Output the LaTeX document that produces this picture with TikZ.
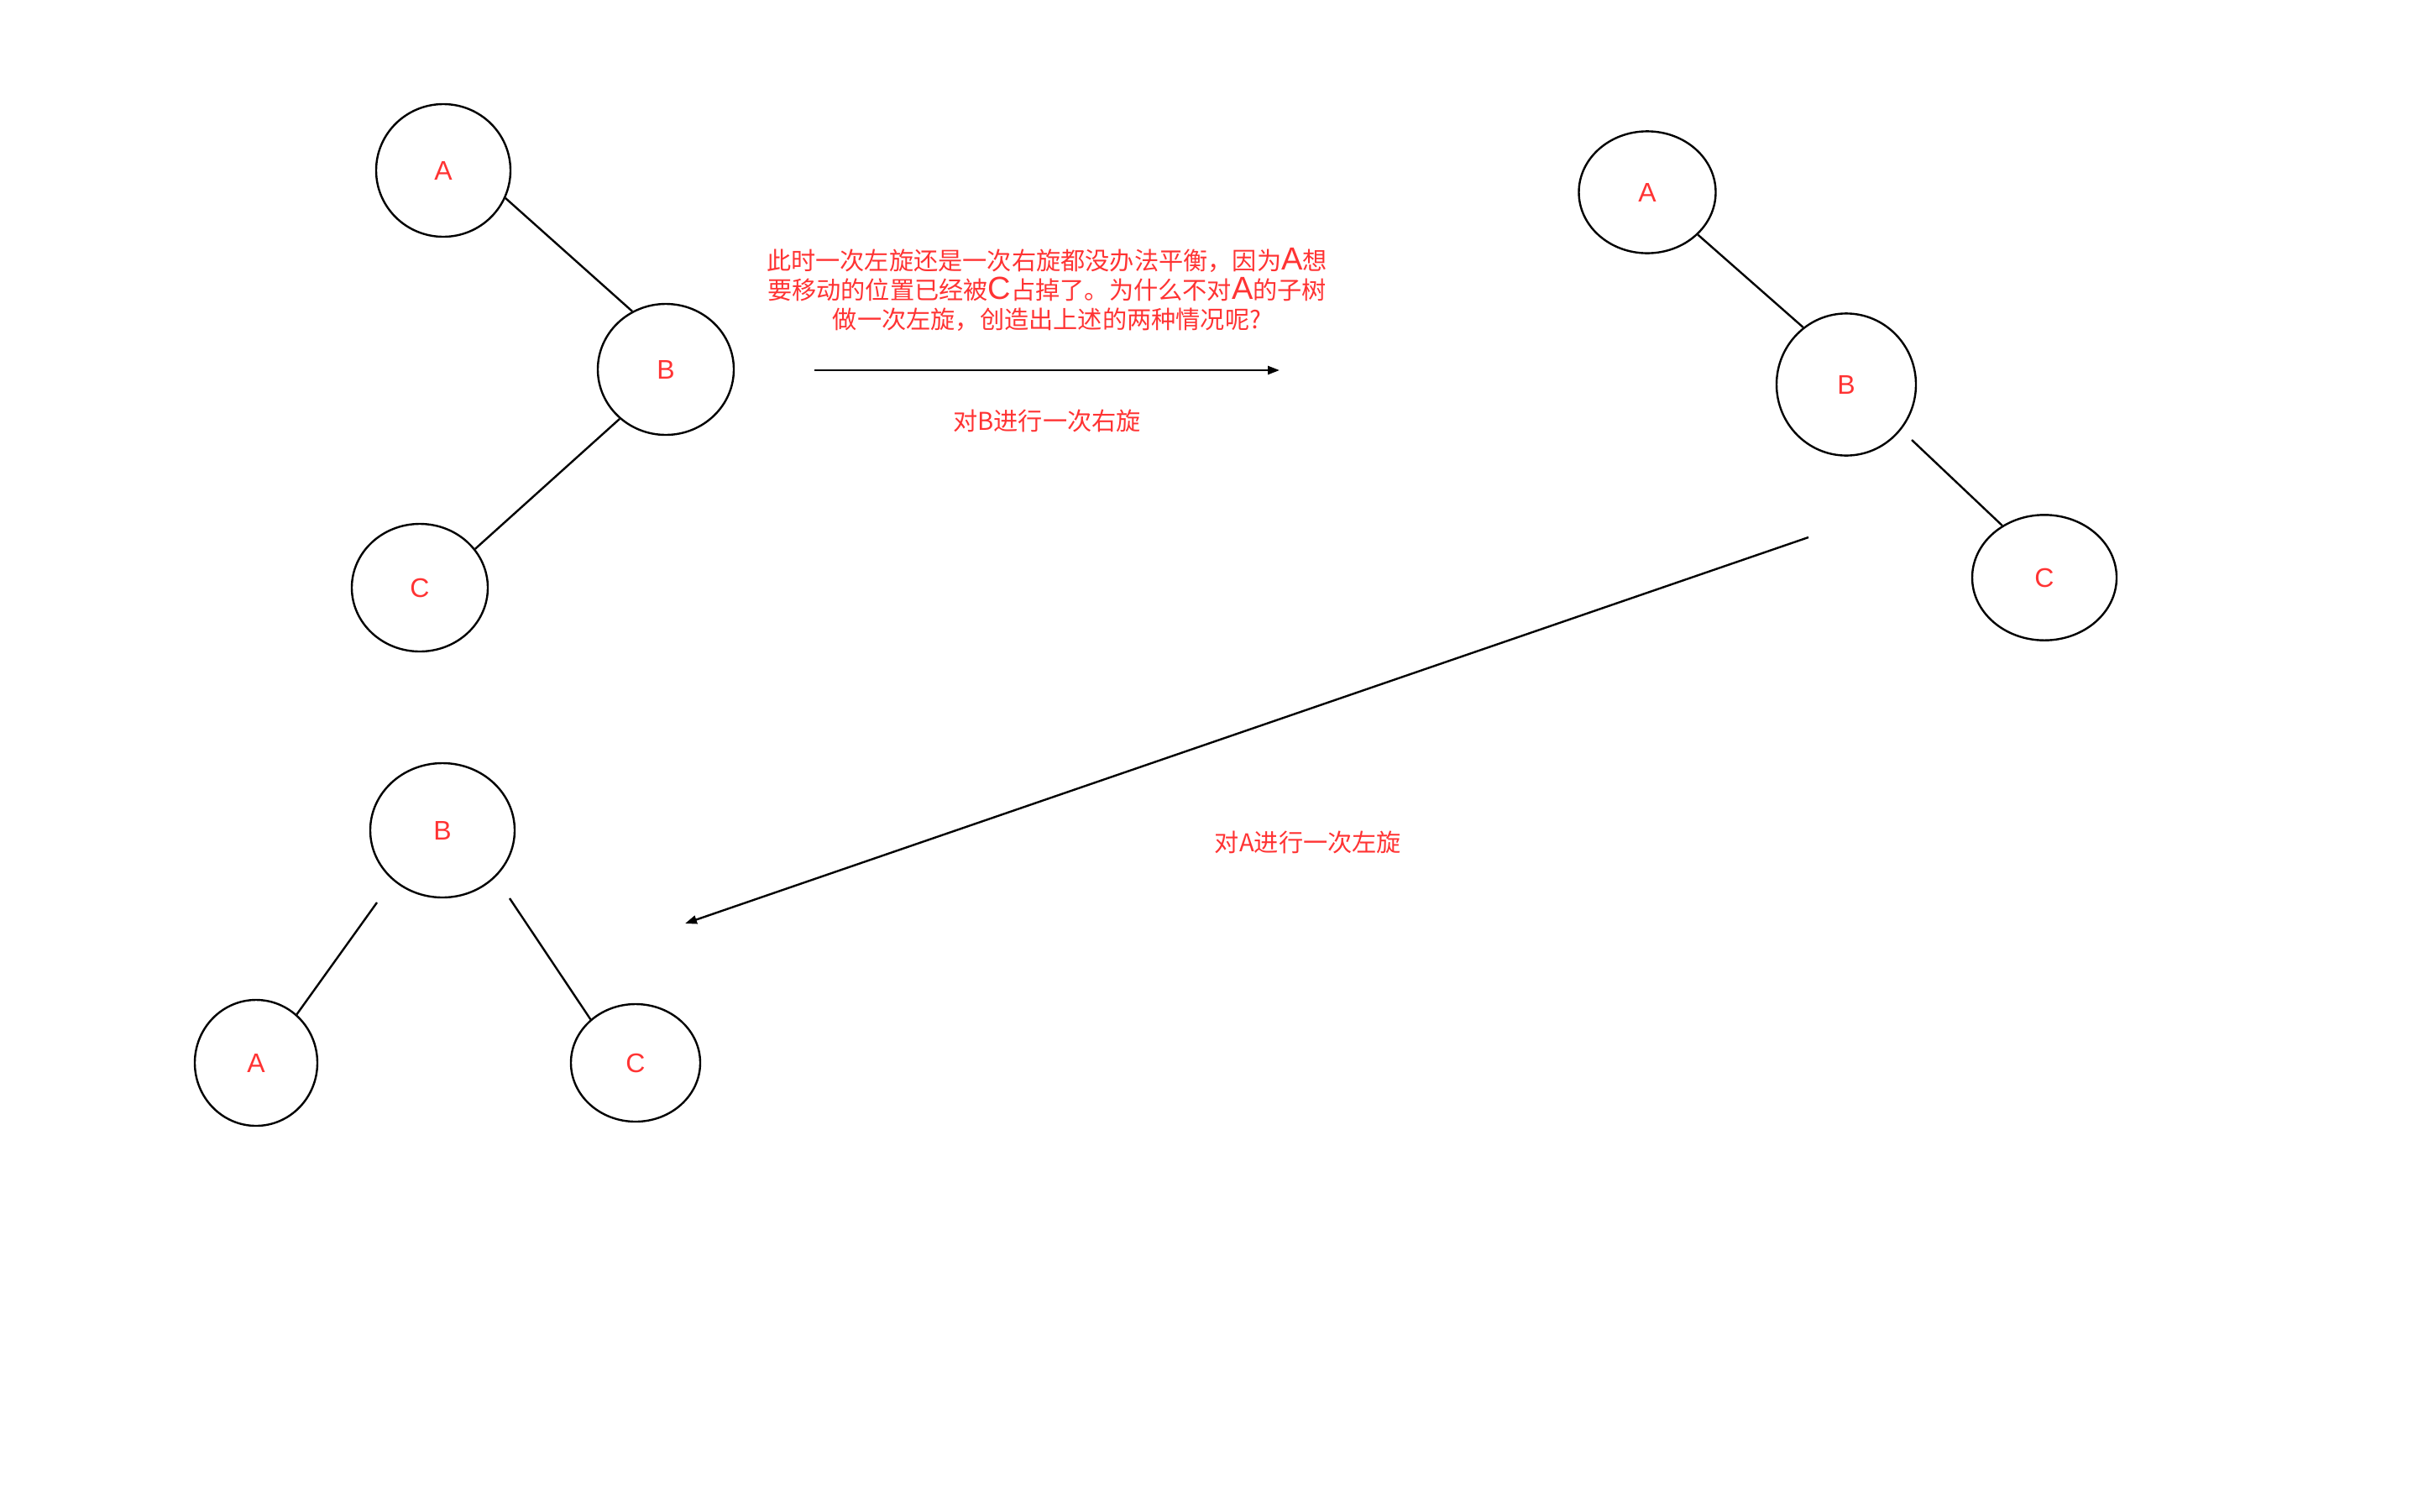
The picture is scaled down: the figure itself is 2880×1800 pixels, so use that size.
\documentclass[tikz,border=0pt]{standalone}
\usepackage{fontspec}
\setmainfont{Noto Sans CJK SC}
\newfontfamily\latinfont{Liberation Sans}
\usepackage{xcolor}
\usetikzlibrary{arrows.meta,shapes.geometric}
\definecolor{labelred}{HTML}{FF3333}
\newcommand{\lat}[1]{{\latinfont\fontsize{19}{19}\selectfont #1}}

\begin{document}
\begin{tikzpicture}[
  x=0.5pt, y=-0.5pt,
  every node/.style={font=\fontsize{14.6}{17.5}\selectfont, text=labelred},
  treenode/.style={draw=black, ellipse, line width=1.2pt, inner sep=0pt, font=\latinfont\fontsize{16}{16}\selectfont},
  edge/.style={line width=1.2pt},
  arrow/.style={-{Triangle[length=7pt, width=5pt]}, line width=1.2pt}
]
  \useasboundingbox (0,0) rectangle (2880,1800);

  % before: right-left case
  \node[treenode, minimum width=80pt, minimum height=79pt] (A1) at (528,203) {A};
  \node[treenode, minimum width=81pt, minimum height=78pt] (B1) at (793,440) {B};
  \node[treenode, minimum width=81pt, minimum height=76pt] (C1) at (500,700) {C};
  \draw[edge] (A1.-24.7) -- (B1.120.7);
  \draw[edge] (B1.227) -- (C1.35.5);

  % after right rotation of B
  \node[treenode, minimum width=81.5pt, minimum height=72.6pt] (A2) at (1962,229) {A};
  \node[treenode, minimum width=83pt, minimum height=84.6pt] (B2) at (2199,458) {B};
  \node[treenode, minimum width=86pt, minimum height=74.7pt] (C2) at (2435,688) {C};
  \coordinate (B2right) at (2277,524);
  \draw[edge] (A2.-40.4) -- (B2.127.3);
  \draw[edge] (B2right) -- (C2.129.7);

  % after left rotation of A
  \node[treenode, minimum width=86pt, minimum height=80pt] (B3) at (527,989) {B};
  \node[treenode, minimum width=73pt, minimum height=75pt] (A3) at (305,1266) {A};
  \node[treenode, minimum width=77pt, minimum height=70pt] (C3) at (757,1266) {C};
  \coordinate (B3left) at (449,1075);
  \coordinate (B3right) at (607,1070);
  \draw[edge] (B3left) -- (A3.50.9);
  \draw[edge] (B3right) -- (C3.136.1);

  % rotation arrows
  \coordinate (rightStart) at (970,441);
  \coordinate (rightEnd) at (1524,441);
  \coordinate (leftStart) at (2154,640);
  \coordinate (leftEnd) at (816,1100);
  \draw[arrow] (rightStart) -- (rightEnd);
  \draw[arrow] (leftStart) -- (leftEnd);

  \node[align=center] (question) at (1247,345) {此时一次左旋还是一次右旋都没办法平衡，因为\lat{A}想\\要移动的位置已经被\lat{C}占掉了。为什么不对\lat{A}的子树\\做一次左旋，创造出上述的两种情况呢?};
  \node (rotRight) at (1247,501) {对B进行一次右旋};
  \node (rotLeft) at (1558,1003) {对A进行一次左旋};
\end{tikzpicture}
\end{document}
